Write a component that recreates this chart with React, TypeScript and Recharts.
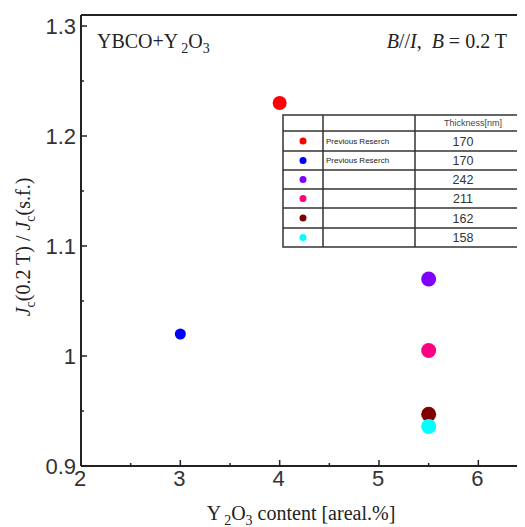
import { ScatterChart, Scatter, XAxis, YAxis, Cell } from 'recharts';

// Y2O3 content [areal.%] and Jc(0.2T)/Jc(s.f.) per sample
const contents = [4, 3, 5.5, 5.5, 5.5, 5.5];
const ratios = [1.23, 1.02, 1.07, 1.005, 0.947, 0.936];
const thicknesses = ['170', '170', '242', '211', '162', '158'];
const notes = ['Previous Reserch', 'Previous Reserch', '', '', '', ''];
const xTicks = [2, 2.5, 3, 3.5, 4, 4.5, 5, 5.5, 6, 6.5];
const yTicks = [0.9, 0.95, 1, 1.05, 1.1, 1.15, 1.2, 1.25, 1.3];

const COLORS = ['#ff0000', '#0000ff', '#8000ff', '#ff0080', '#800000', '#00ffff'];
const RADII = [7, 5.5, 7.5, 7.5, 7.5, 7.5];

const SANS = 'Liberation Sans, Arial, sans-serif';
const SERIF = 'Liberation Serif, Times New Roman, serif';
const INK = '#222';

const data = contents.map((x, i) => ({ x, y: ratios[i] }));

const onStep = (v: number, step: number) =>
  Math.abs(v / step - Math.round(v / step)) < 1e-6;

// 눈금: 안쪽으로 그리고 주 눈금에만 라벨
const LeftTick = ({ x, y, payload }: any) => {
  const major = onStep(payload.value, 0.1);
  return (
    <g>
      <line x1={x} x2={x + (major ? 6 : 3)} y1={y} y2={y} stroke={INK} strokeWidth={1.5} />
      {major && (
        <text x={x - 5} y={y} dy="0.36em" textAnchor="end" fontSize={22} fontFamily={SANS} fill="#333">
          {String(payload.value)}
        </text>
      )}
    </g>
  );
};

const RightTick = ({ x, y, payload }: any) => {
  const major = onStep(payload.value, 0.1);
  return <line x1={x} x2={x - (major ? 6 : 3)} y1={y} y2={y} stroke={INK} strokeWidth={1.5} />;
};

const BottomTick = ({ x, y, payload }: any) => {
  const major = onStep(payload.value, 1);
  return (
    <g>
      <line x1={x} x2={x} y1={y} y2={y - (major ? 6 : 3)} stroke={INK} strokeWidth={1.5} />
      {major && (
        <text x={x - 1} y={y + 2} dy="0.8em" textAnchor="middle" fontSize={22} fontFamily={SANS} fill="#333">
          {String(payload.value)}
        </text>
      )}
    </g>
  );
};

const TopTick = ({ x, y, payload }: any) => {
  const major = onStep(payload.value, 1);
  return <line x1={x} x2={x} y1={y} y2={y + (major ? 6 : 3)} stroke={INK} strokeWidth={1.5} />;
};

const Dot = (props: any) => {
  const { cx, cy, fill, index } = props;
  return <circle cx={cx} cy={cy} r={RADII[index] ?? 7} fill={fill} />;
};

// 범례 표
const ROW_Y = [107, 123, 143, 162, 181, 200, 220, 239];
const COL_X = [275, 315, 407, 514];

const LegendTable = () => (
  <g>
    <rect x={COL_X[0]} y={ROW_Y[0]} width={COL_X[3] - COL_X[0]} height={ROW_Y[7] - ROW_Y[0]} fill="#fff" stroke="#333" strokeWidth={1.5} />
    {ROW_Y.slice(1, 7).map((ry) => (
      <line key={ry} x1={COL_X[0]} x2={COL_X[3]} y1={ry} y2={ry} stroke="#333" strokeWidth={1.5} />
    ))}
    {COL_X.slice(1, 3).map((cx) => (
      <line key={cx} x1={cx} x2={cx} y1={ROW_Y[0]} y2={ROW_Y[7]} stroke="#333" strokeWidth={1.5} />
    ))}
    <text x={465} y={118} textAnchor="middle" fontSize={9} fontFamily={SANS} fill="#444">
      Thickness[nm]
    </text>
    {thicknesses.map((t, i) => {
      const mid = (ROW_Y[i + 1] + ROW_Y[i + 2]) / 2;
      return (
        <g key={i}>
          <circle cx={295} cy={mid} r={3.5} fill={COLORS[i]} />
          {notes[i] && (
            <text x={318} y={mid} dy="0.35em" fontSize={8} fontFamily={SANS} fill="#222">
              {notes[i]}
            </text>
          )}
          <text x={455} y={mid} dy="0.36em" textAnchor="middle" fontSize={12.5} fontFamily={SANS} fill="#333">
            {t}
          </text>
        </g>
      );
    })}
  </g>
);

export default function App() {
  return (
    <div style={{ width: 517, height: 519, overflow: 'hidden', position: 'relative' }}>
      <ScatterChart width={540} height={519} margin={{ top: 0, right: 0, bottom: 0, left: 0 }}>
        <XAxis
          xAxisId="b"
          dataKey="x"
          type="number"
          domain={[2, 6.5]}
          ticks={xTicks}
          interval={0}
          height={61}
          tickSize={0}
          tickMargin={0}
          tickLine={false}
          axisLine={{ stroke: INK, strokeWidth: 2 }}
          tick={<BottomTick />}
        />
        <XAxis
          xAxisId="t"
          orientation="top"
          type="number"
          domain={[2, 6.5]}
          ticks={xTicks}
          interval={0}
          height={7}
          tickSize={0}
          tickMargin={0}
          tickLine={false}
          axisLine={{ stroke: INK, strokeWidth: 2 }}
          tick={<TopTick />}
        />
        <YAxis
          yAxisId="l"
          dataKey="y"
          type="number"
          domain={[0.9, 1.31]}
          ticks={yTicks}
          interval={0}
          width={73}
          tickSize={0}
          tickMargin={0}
          tickLine={false}
          axisLine={{ stroke: INK, strokeWidth: 2 }}
          tick={<LeftTick />}
        />
        <YAxis
          yAxisId="r"
          orientation="right"
          type="number"
          domain={[0.9, 1.31]}
          ticks={yTicks}
          interval={0}
          width={20}
          tickSize={0}
          tickMargin={0}
          tickLine={false}
          axisLine={{ stroke: INK, strokeWidth: 2 }}
          tick={<RightTick />}
        />
        <Scatter data={data} xAxisId="b" yAxisId="l" shape={<Dot />} isAnimationActive={false}>
          {data.map((_, i) => (
            <Cell key={i} fill={COLORS[i]} />
          ))}
        </Scatter>

        <LegendTable />

        <text x={89} y={40} fontSize={20} fontFamily={SERIF} fill={INK}>
          YBCO+Y
          <tspan dx={3} dy={5} fontSize={14}>2</tspan>
          <tspan dy={-5}>O</tspan>
          <tspan dy={5} fontSize={14}>3</tspan>
        </text>
        <text x={499} y={40} textAnchor="end" fontSize={20} fontFamily={SERIF} fill={INK}>
          <tspan fontStyle="italic">B</tspan>//<tspan fontStyle="italic">I</tspan>,{'\u00a0\u00a0'}
          <tspan fontStyle="italic">B</tspan> = 0.2 T
        </text>

        <text transform="translate(22 239) rotate(-90)" textAnchor="middle" fontSize={20} fontFamily={SERIF} fill={INK}>
          <tspan fontStyle="italic">J</tspan>
          <tspan dy={5} fontSize={14}>c</tspan>
          <tspan dy={-5}>(0.2 T) / </tspan>
          <tspan fontStyle="italic">J</tspan>
          <tspan dy={5} fontSize={14}>c</tspan>
          <tspan dy={-5}>(s.f.)</tspan>
        </text>

        <text x={293} y={512} textAnchor="middle" fontSize={20} fontFamily={SERIF} fill={INK}>
          Y
          <tspan dx={3} dy={5} fontSize={14}>2</tspan>
          <tspan dy={-5}>O</tspan>
          <tspan dy={5} fontSize={14}>3</tspan>
          <tspan dy={-5}> content [areal.%]</tspan>
        </text>
      </ScatterChart>
    </div>
  );
}
